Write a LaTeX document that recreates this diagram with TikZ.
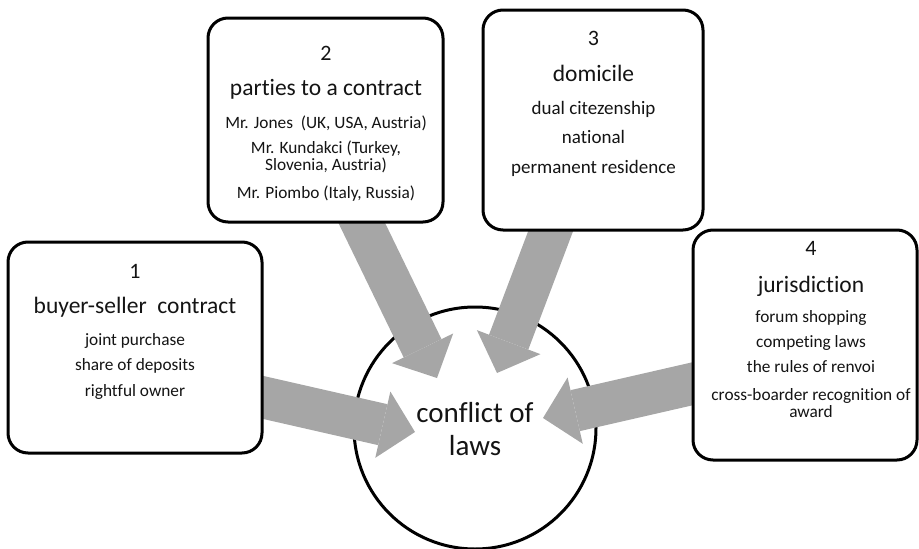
\documentclass[tikz,border=0pt]{standalone}
\usepackage{fontspec}
\setmainfont{Carlito}[Ligatures=NoCommon]
\usetikzlibrary{arrows.meta}
\pgfdeclarelayer{under}
\pgfdeclarelayer{flow}
\pgfsetlayers{under,flow,main}
\definecolor{flowgray}{RGB}{166,166,166}
\definecolor{ink}{RGB}{20,20,20}
\newcommand{\fsz}[1]{\fontsize{#1}{#1}\selectfont}

\begin{document}
\begin{tikzpicture}[x=1pt,y=-1pt,
  card/.style={draw=black, line width=3pt, rounded corners=20pt, fill=white, inner sep=0pt},
  hub/.style={circle, draw=black, line width=3pt, inner sep=0pt, minimum size=242pt},
  num/.style={anchor=base, font=\fsz{22}, text=ink, inner sep=0pt},
  head/.style={anchor=base, font=\fsz{23.5}, text=ink, inner sep=0pt},
  item/.style={anchor=base, font=\fsz{17.3}, text=ink, inner sep=0pt},
  itembig/.style={anchor=base, font=\fsz{19}, text=ink, inner sep=0pt},
  core/.style={anchor=base, font=\fsz{29}, text=ink, inner sep=0pt},
  feed/.style={draw=flowgray, line width=42pt,
    -{Triangle[length=33pt,width=68pt,line width=0pt]}, shorten <=-25pt}
]
\useasboundingbox (0,0) rectangle (919,549);

% central circle
\begin{pgfonlayer}{under}
  \node[hub] (c) at (475,428) {};
\end{pgfonlayer}
\node[core] (c1) at (475,422) {conflict of};
\node[core] (c2) at (475,455) {laws};

% the four boxes
\node[card, minimum width=254pt, minimum height=211pt] (b1) at (135,347.5) {};
\node[card, minimum width=235pt, minimum height=204pt] (b2) at (325.5,120) {};
\node[card, minimum width=220pt, minimum height=220pt] (b3) at (593,120) {};
\node[card, minimum width=224pt, minimum height=230pt] (b4) at (805,345) {};

% box 1
\node[num]  (n1)  at (135,278) {1};
\node[head] (h1)  at (135,313) {buyer-seller\ \ contract};
\node[item] (i1a) at (135,345) {joint purchase};
\node[item] (i1b) at (135,370) {share of deposits};
\node[item] (i1c) at (135,396) {rightful owner};

% box 2
\node[num]  (n2)  at (326,60) {2};
\node[head] (h2)  at (326,95) {parties to a contract};
\node[item] (i2a) at (326,128) {Mr. Jones\ \ (UK, USA, Austria)};
\node[item] (i2b) at (326,153) {Mr. Kundakci (Turkey,};
\node[item] (i2c) at (326,170) {Slovenia, Austria)};
\node[item] (i2d) at (326,198) {Mr. Piombo (Italy, Russia)};

% box 3
\node[num]     (n3)  at (593.5,45) {3};
\node[head]    (h3)  at (593.5,81) {domicile};
\node[itembig] (i3a) at (593.5,114) {dual citezenship};
\node[itembig] (i3b) at (593.5,143) {national};
\node[itembig] (i3c) at (593.5,173) {permanent residence};

% box 4
\node[num]  (n4)  at (811,255) {4};
\node[head] (h4)  at (811,292) {jurisdiction};
\node[item] (i4a) at (811,322) {forum shopping};
\node[item] (i4b) at (811,347) {competing laws};
\node[item] (i4c) at (811,372) {the rules of renvoi};
\node[item] (i4d) at (811,400) {cross-boarder recognition of};
\node[item] (i4e) at (811,417) {award};

% arrow tips inside the circle
\coordinate (t1) at (415,432);
\coordinate (t2) at (437,378);
\coordinate (t3) at (497,373);
\coordinate (t4) at (543,418);

% block arrows, drawn beneath the boxes
\begin{pgfonlayer}{flow}
  \draw[feed] ([yshift=-50pt]b1.east) -- (t1);
  \draw[feed] ([xshift=36.5pt]b2.south) -- (t2);
  \draw[feed] ([xshift=-42.5pt]b3.south) -- (t3);
  \draw[feed] ([yshift=-39pt]b4.west) -- (t4);
\end{pgfonlayer}
\end{tikzpicture}
\end{document}
